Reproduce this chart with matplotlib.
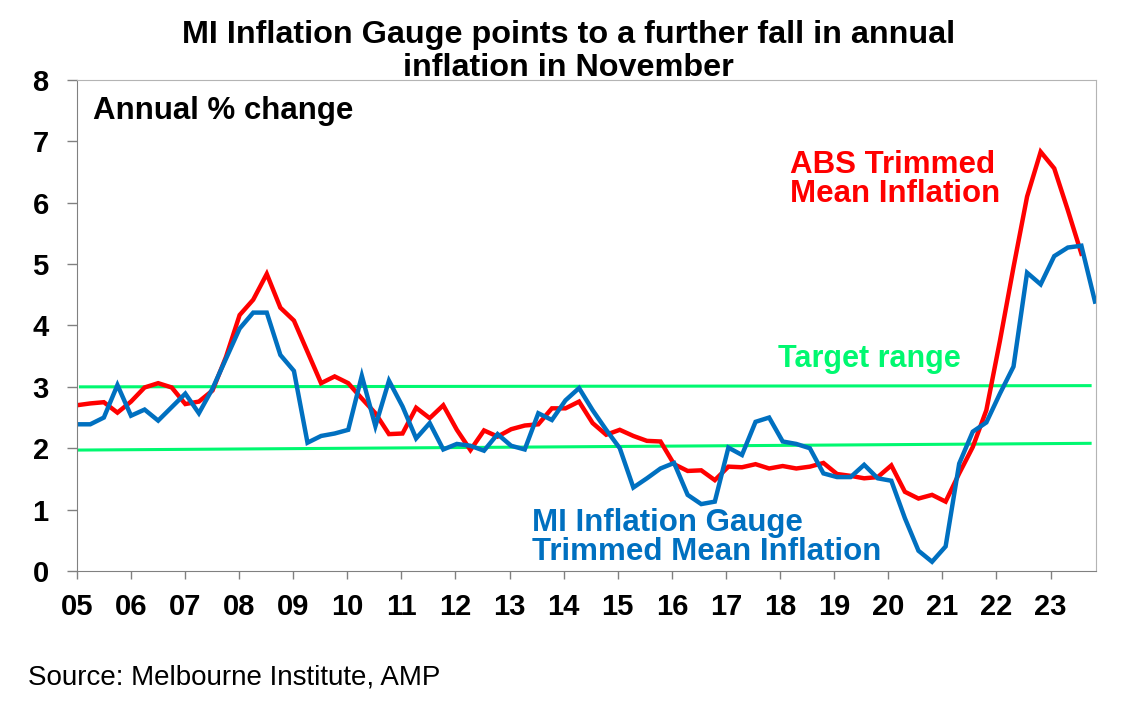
import numpy as np
import matplotlib
matplotlib.use("Agg")
import matplotlib.pyplot as plt

plt.rcParams['font.family'] = ['Liberation Sans', 'DejaVu Sans']

# quarterly readings, first point Mar-2005
abs_trimmed_mean = [
    2.70, 2.73, 2.75, 2.58, 2.76, 2.99, 3.06, 2.99, 2.72, 2.76,
    2.94, 3.49, 4.17, 4.42, 4.84, 4.29, 4.08, 3.57, 3.06, 3.17,
    3.06, 2.81, 2.57, 2.23, 2.24, 2.66, 2.49, 2.70, 2.30, 1.97,
    2.29, 2.19, 2.31, 2.37, 2.39, 2.65, 2.65, 2.76, 2.41, 2.22,
    2.30, 2.20, 2.12, 2.11, 1.74, 1.63, 1.64, 1.48, 1.70, 1.69,
    1.74, 1.67, 1.71, 1.67, 1.70, 1.76, 1.58, 1.55, 1.51, 1.53,
    1.72, 1.29, 1.18, 1.24, 1.13, 1.59, 2.02, 2.62, 3.75, 4.95,
    6.10, 6.83, 6.56, 5.88, 5.17,
]
mi_gauge = [
    2.39, 2.39, 2.50, 3.03, 2.53, 2.63, 2.45, 2.67, 2.89, 2.57,
    2.97, 3.46, 3.95, 4.21, 4.21, 3.52, 3.26, 2.09, 2.20, 2.24,
    2.30, 3.18, 2.36, 3.10, 2.68, 2.16, 2.41, 1.98, 2.07, 2.04,
    1.96, 2.23, 2.04, 1.98, 2.57, 2.46, 2.78, 2.98, 2.62, 2.30,
    2.00, 1.36, 1.51, 1.67, 1.76, 1.24, 1.09, 1.13, 2.01, 1.89,
    2.43, 2.50, 2.11, 2.07, 2.00, 1.59, 1.53, 1.53, 1.73, 1.51,
    1.47, 0.86, 0.33, 0.15, 0.40, 1.75, 2.27, 2.42, 2.89, 3.33,
    4.86, 4.67, 5.13, 5.27, 5.30, 4.39,
]
target_x = [2005.0, 2023.73]
target_low = [1.97, 2.08]
target_high = [3.00, 3.02]
year_ticks = list(range(2005, 2024))
year_labels = ['%02d' % (y % 100) for y in year_ticks]

step = 18.82 / 75
x_abs = 2005 + np.arange(len(abs_trimmed_mean)) * step
x_mi = 2005 + np.arange(len(mi_gauge)) * step

red = '#ff0000'
blue = '#0070c0'
green = '#00f870'

fig = plt.figure(figsize=(11.23, 7.03), dpi=100)
ax = fig.add_axes([0.0683, 0.1878, 0.976 - 0.0683, 0.8862 - 0.1878])

ax.plot(target_x, target_low, color=green, lw=2.2)
ax.plot([2005.07, target_x[1]], target_high, color=green, lw=2.2)
ax.plot(x_abs, abs_trimmed_mean, color=red, lw=3.2, solid_joinstyle='miter')
ax.plot(x_mi, mi_gauge, color=blue, lw=3.2, solid_joinstyle='miter')

ax.set_xlim(2005, 2023.84)
ax.set_ylim(0, 8)
ax.set_xticks(year_ticks)
ax.set_xticklabels(year_labels)
ax.set_yticks(range(0, 9))
ax.tick_params(axis='x', direction='out', length=6, width=1, color='#808080',
               labelsize=21, pad=10)
ax.tick_params(axis='y', direction='out', length=7.2, width=1, color='#808080',
               labelsize=21, pad=13)
for lab in ax.get_xticklabels() + ax.get_yticklabels():
    lab.set_fontweight('bold')

for side in ['left', 'bottom']:
    ax.spines[side].set_color('#808080')
for side in ['top', 'right']:
    ax.spines[side].set_color('#b4b4b4')

ax.text(2005.3, 7.49, 'Annual % change', fontsize=22.5, fontweight='bold',
        va='center', ha='left')
ax.text(2018.18, 6.38, 'ABS Trimmed\nMean Inflation', fontsize=22.5,
        fontweight='bold', color=red, va='center', ha='left', linespacing=0.95)
ax.text(2017.96, 3.45, 'Target range', fontsize=22, fontweight='bold',
        color=green, va='center', ha='left')
ax.text(2013.42, 0.54, 'MI Inflation Gauge\nTrimmed Mean Inflation', fontsize=22.5,
        fontweight='bold', color=blue, va='center', ha='left', linespacing=0.95)

fig.text(0.506, 1 - 20 / 703,
         'MI Inflation Gauge points to a further fall in annual\ninflation in November',
         ha='center', va='top', fontsize=23.3, fontweight='bold', linespacing=1.13)
fig.text(28 / 1123, 1 - 685 / 703, 'Source: Melbourne Institute, AMP',
         ha='left', va='baseline', fontsize=20)

fig.savefig('out.png', dpi=100)
